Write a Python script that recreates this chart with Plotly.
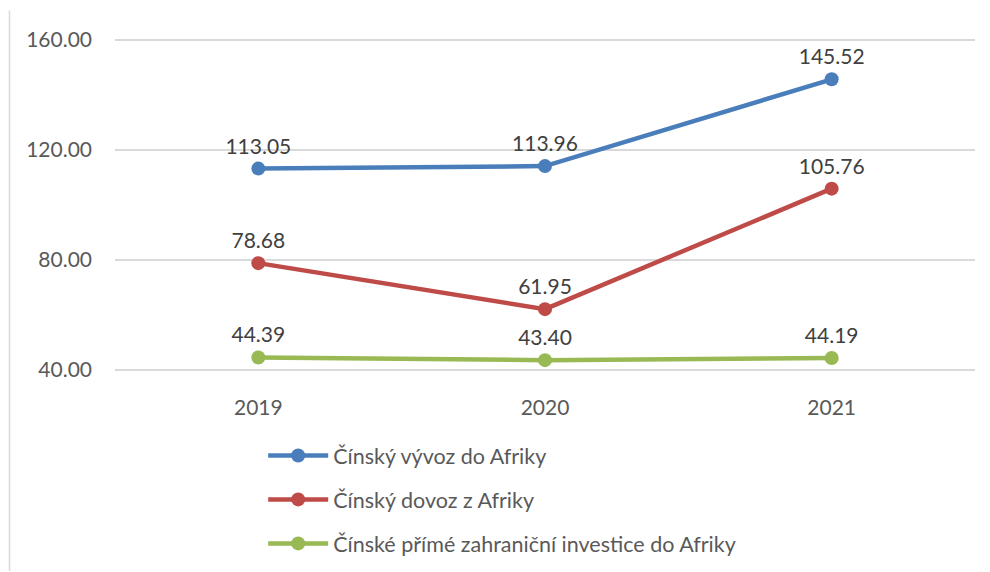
import plotly.graph_objects as go

years = ["2019", "2020", "2021"]
export_vals = [113.05, 113.96, 145.52]
import_vals = [78.68, 61.95, 105.76]
fdi_vals = [44.39, 43.40, 44.19]
series_names = [
    "Čínský vývoz do Afriky",
    "Čínský dovoz z Afriky",
    "Čínské přímé zahraniční investice do Afriky",
]
y_ticks = [40, 80, 120, 160]

colors = ["#4A7EBB", "#BE4B48", "#98B954"]
FONT = "Lato, 'Open Sans', sans-serif"

fig = go.Figure()
for i, (name, vals, col) in enumerate(zip(series_names, [export_vals, import_vals, fdi_vals], colors)):
    fig.add_trace(go.Scatter(
        x=years, y=vals, name=name, legendgroup=f"g{i}",
        mode="lines+markers+text",
        line=dict(color=col, width=4.5),
        marker=dict(color=col, size=14),
        text=[f"{v:.2f}" for v in vals],
        textposition="top center",
        textfont=dict(family=FONT, size=21, color="#404040"),
        cliponaxis=False,
    ))

# page has an 8px body margin, so the figure is sized/offset to compensate
W, H = 982, 564
fig.update_layout(
    width=W, height=H,
    margin=dict(l=107, r=15, t=25.5, b=196.5, autoexpand=False),
    paper_bgcolor="white", plot_bgcolor="white",
    font=dict(family=FONT, size=21, color="#595959"),
    showlegend=True,
    legend=dict(
        orientation="v", x=0.1723, xanchor="left",
        yref="container", y=1 - 427 / H, yanchor="top",
        font=dict(family=FONT, size=21.5, color="#595959"),
        tracegroupgap=13, itemwidth=60,
    ),
    xaxis=dict(
        type="category", range=[-0.5, 2.5],
        showgrid=False, showline=False, zeroline=False,
        ticks="", ticklabelstandoff=18,
        tickfont=dict(size=21, color="#595959"),
    ),
    yaxis=dict(
        range=[38, 162], tickvals=y_ticks,
        ticktext=[f"{v:.2f}" for v in y_ticks],
        showgrid=True, gridcolor="#D9D9D9", gridwidth=1.5,
        zeroline=False, showline=False, ticks="",
        ticklabelstandoff=22,
        tickfont=dict(size=21, color="#595959"),
    ),
)
fig.add_shape(type="line", xref="paper", yref="paper",
              x0=(1.5 - 107) / 860, x1=(1.5 - 107) / 860,
              y0=(367.5 - 2) / 342, y1=(367.5 - 564) / 342,
              line=dict(color="#D9D9D9", width=1.5))
fig.write_html("out.html")
